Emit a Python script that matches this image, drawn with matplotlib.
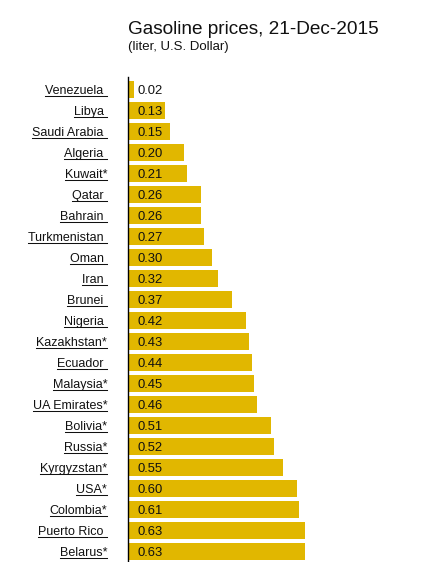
import matplotlib
matplotlib.use("Agg")
import matplotlib.pyplot as plt
from matplotlib.lines import Line2D

pays = [
    "Venezuela ", "Libya ", "Saudi Arabia ", "Algeria ", "Kuwait*", "Qatar ",
    "Bahrain ", "Turkmenistan ", "Oman ", "Iran ", "Brunei ", "Nigeria ",
    "Kazakhstan*", "Ecuador ", "Malaysia*", "UA Emirates*", "Bolivia*",
    "Russia*", "Kyrgyzstan*", "USA*", "Colombia*", "Puerto Rico ", "Belarus*",
]
prix = [
    0.02, 0.13, 0.15, 0.20, 0.21, 0.26, 0.26, 0.27, 0.30, 0.32, 0.37, 0.42,
    0.43, 0.44, 0.45, 0.46, 0.51, 0.52, 0.55, 0.60, 0.61, 0.63, 0.63,
]

W, H = 435, 562
plt.rcParams["font.family"] = ["Liberation Sans", "DejaVu Sans"]

fig = plt.figure(figsize=(W / 100, H / 100), dpi=100, facecolor="white")
# axes : bord gauche a x=128 px, haut a y=77 px, jusqu'en bas de l'image
ax = fig.add_axes([128 / W, 0, 1 - 128 / W, 1 - 77 / H])

y = list(range(len(pays)))
ax.barh(y, prix, height=0.83, color="#E1B700", edgecolor="none")
ax.set_xlim(0, 307 / 281)
ax.set_ylim(len(pays) - 0.5, -0.595)

for s in ["top", "right", "bottom"]:
    ax.spines[s].set_visible(False)
ax.spines["left"].set_color("black")
ax.spines["left"].set_linewidth(1.0)
ax.set_xticks([])
ax.set_yticks(y)
ax.set_yticklabels(pays, fontsize=9.0, color="#111111")
ax.tick_params(axis="y", length=0, pad=15)

for i, v in enumerate(prix):
    ax.annotate(f"{v:.2f}", (0, i), xytext=(6.5, 0), textcoords="offset points",
                va="center_baseline", ha="left", fontsize=9.4, color="#111111")

fig.text(128 / W, 1 - 34 / H, "Gasoline prices, 21-Dec-2015", fontsize=13.7,
         va="baseline", ha="left", color="#111111")
fig.text(128 / W, 1 - 50 / H, "(liter, U.S. Dollar)", fontsize=9.5,
         va="baseline", ha="left", color="#111111")

# soulignement des noms de pays (liens)
fig.canvas.draw()
renderer = fig.canvas.get_renderer()
for lab in ax.get_yticklabels():
    bb = lab.get_window_extent(renderer)
    yl = (bb.y0 + 1.0) / H
    fig.add_artist(Line2D([bb.x0 / W, bb.x1 / W], [yl, yl], color="#111111",
                          linewidth=0.75, transform=fig.transFigure))

fig.savefig("out.png", dpi=100, facecolor="white")
